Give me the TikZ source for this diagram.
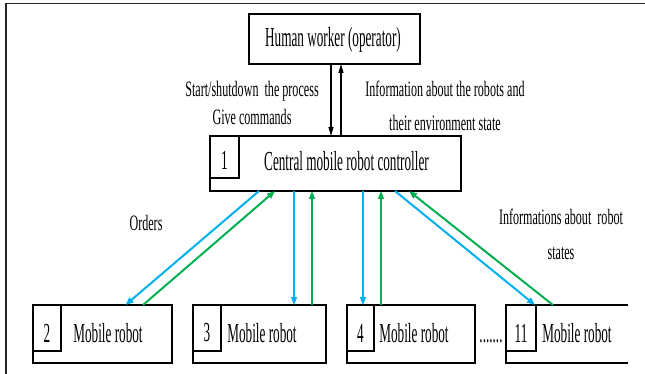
\documentclass[tikz,border=0pt]{standalone}
\usepackage{fontspec}
\setmainfont{Liberation Serif}
\newfontfamily\boxfont{Liberation Serif}[FakeStretch=0.48]
\newfontfamily\labfont{Liberation Serif}[FakeStretch=0.55]
\usetikzlibrary{arrows.meta,calc}
\definecolor{cyanarr}{RGB}{0,176,240}
\definecolor{greenarr}{RGB}{0,176,80}
\begin{document}
\begin{tikzpicture}[x=1pt,y=-1pt,
  boxnode/.style={draw=black,line width=1.3pt,minimum width=#1,inner sep=0pt,outer sep=0pt},
  btext/.style={font=\boxfont\fontsize{27.5}{30}\selectfont,inner sep=0pt},
  ltext/.style={font=\labfont\fontsize{22}{28}\selectfont,inner sep=0pt,align=center},
  tipA/.style={-{Triangle[length=8pt,width=6pt]}},
  thickarr/.style={tipA,line width=2pt},
  thinarr/.style={tipA,line width=1.2pt},
  blk/.style={-{Triangle[length=9pt,width=5pt]},line width=1.3pt}
]
\useasboundingbox (0,0) rectangle (645,374);
% frame (left and top only)
\draw[line width=1.8pt,black!85] (6,374) -- (6,3.5) -- (645,3.5);

% human worker
\node[boxnode=171pt,minimum height=50pt] (human) at (334.5,39) {};
\node[btext] (humant) at (333,40) {Human worker (operator)};

% central controller
\node[boxnode=251pt,minimum height=55pt] (central) at (335.5,163.5) {};
\node[boxnode=29pt,minimum height=42pt] (n1) at (224.5,157) {};
\node[btext] (n1t) at (224.5,160) {1};
\node[btext] (centralt) at (346.5,161) {Central mobile robot controller};

% robots
\node[boxnode=139pt,minimum height=58pt] (r2) at (102.5,334) {};
\node[boxnode=28pt,minimum height=46pt] (n2) at (47,328) {};
\node[btext] (n2t) at (47,333) {2};
\node[btext] (r2t) at (108,333) {Mobile robot};

\node[boxnode=133pt,minimum height=58pt] (r3) at (259.5,334) {};
\node[boxnode=28pt,minimum height=46pt] (n3) at (207,328) {};
\node[btext] (n3t) at (207,333) {3};
\node[btext] (r3t) at (262,333) {Mobile robot};

\node[boxnode=128pt,minimum height=58pt] (r4) at (411,334) {};
\node[boxnode=27pt,minimum height=46pt] (n4) at (360.5,328) {};
\node[btext] (n4t) at (360.5,333) {4};
\node[btext] (r4t) at (414,333) {Mobile robot};

\coordinate (r11nw) at (506,305);
\coordinate (r11ne) at (628,305);
\coordinate (r11sw) at (506,363);
\coordinate (r11se) at (628,363);
\draw[line width=1.3pt] (r11ne) -- (r11nw) -- (r11sw) -- (r11se);
\node[boxnode=30pt,minimum height=46pt] (n11) at (521,328) {};
\node[btext] (n11t) at (521,333) {11};
\node[btext] (r11t) at (577,333) {Mobile robot};

\node[btext,anchor=base] (dots) at (491,342) {.......};

% labels
\node[ltext] (lab1) at (252,103) {Start/shutdown~~the process\\Give commands};
\node[ltext] (lab2) at (445,106) {Information about the robots and\\[6pt]their environment state};
\node[ltext] (orders) at (146,223) {Orders};
\node[ltext] (lab3) at (561,234.5) {Informations about~~robot\\[7pt]states};

% human <-> central
\draw[blk] ([xshift=82pt]human.south west) -- ([xshift=121pt]central.north west);
\draw[blk] ([xshift=131pt]central.north west) -- ([xshift=92pt]human.south west);

% central <-> robot 2
\draw[thickarr,cyanarr] ([xshift=49pt]central.south west) -- ([xshift=92.5pt]r2.north west);
\draw[thickarr,greenarr] ([xshift=110pt]r2.north west) -- ([xshift=65pt]central.south west);
% robot 3
\draw[thinarr,cyanarr] ([xshift=84pt]central.south west) -- ([xshift=101pt]r3.north west);
\draw[thinarr,greenarr] ([xshift=119pt]r3.north west) -- ([xshift=102pt]central.south west);
% robot 4
\draw[thinarr,cyanarr] ([xshift=153pt]central.south west) -- ([xshift=16pt]r4.north west);
\draw[thinarr,greenarr] ([xshift=34pt]r4.north west) -- ([xshift=171pt]central.south west);
% robot 11
\draw[thickarr,cyanarr] ([xshift=185pt]central.south west) -- ([xshift=29pt]r11nw);
\draw[thickarr,greenarr] ([xshift=47pt]r11nw) -- ([xshift=199pt]central.south west);
\end{tikzpicture}
\end{document}
